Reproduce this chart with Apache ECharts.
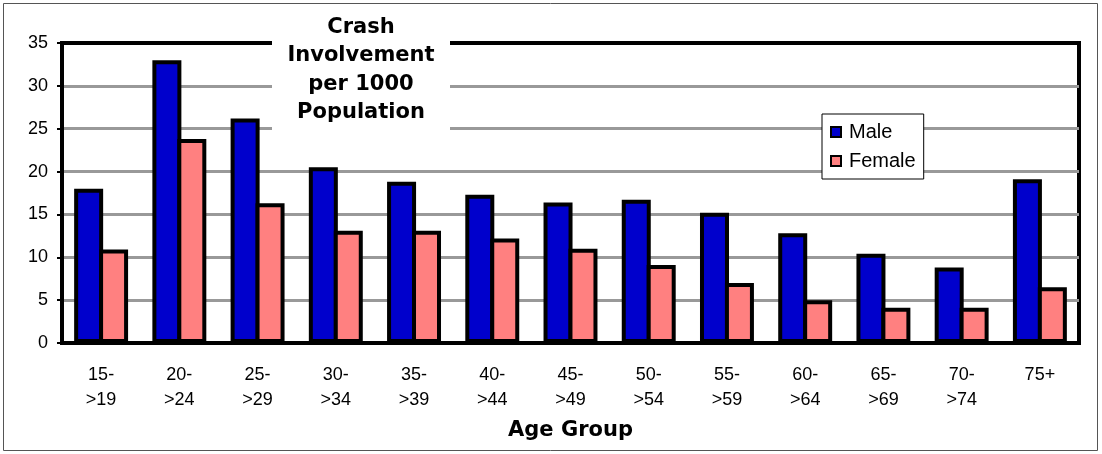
<!DOCTYPE html>
<html>
<head>
<meta charset="utf-8">
<script src="https://cdn.jsdelivr.net/npm/echarts@6/dist/echarts.min.js"></script>
<style>
  html, body { margin: 0; padding: 0; background: #fff; }
  #chart { width: 1102px; height: 454px; }
</style>
</head>
<body>
<div id="chart"></div>
<script>
// age groups along the x axis
var ageGroups = ['15-\n>19', '20-\n>24', '25-\n>29', '30-\n>34', '35-\n>39', '40-\n>44', '45-\n>49',
                 '50-\n>54', '55-\n>59', '60-\n>64', '65-\n>69', '70-\n>74', '75+'];
// crash involvement per 1000 population
var maleValues   = [18.0, 33.0, 26.2, 20.5, 18.8, 17.3, 16.4, 16.7, 15.2, 12.8, 10.4, 8.8, 19.1];
var femaleValues = [10.9, 23.8, 16.3, 13.1, 13.1, 12.2, 11.0, 9.1, 7.0, 5.0, 4.1, 4.1, 6.5];
var yTicks = [0, 5, 10, 15, 20, 25, 30, 35];

var myChart = echarts.init(document.getElementById('chart'));

myChart.setOption({
  animation: false,
  backgroundColor: '#fff',
  textStyle: { fontFamily: 'Liberation Sans, Arial, sans-serif', color: '#000' },
  grid: {
    left: 62, right: 23, top: 43, bottom: 111,
    show: true,
    borderColor: '#000',
    borderWidth: 4
  },
  legend: {
    orient: 'vertical',
    left: 822, top: 114,
    backgroundColor: '#fff',
    borderColor: '#000',
    borderWidth: 1,
    padding: [8, 8, 8, 8],
    itemWidth: 10, itemHeight: 10,
    itemGap: 9,
    icon: 'rect',
    itemStyle: { borderWidth: 2, borderColor: '#000' },
    textStyle: { fontSize: 20, color: '#000', padding: [0, 0, 0, 3] },
    data: ['Male', 'Female']
  },
  xAxis: {
    type: 'category',
    data: ageGroups,
    axisTick: { show: false },
    axisLine: { lineStyle: { color: '#000', width: 4 } },
    axisLabel: { fontSize: 18, color: '#000', lineHeight: 25, margin: 20 },
    name: 'Age Group',
    nameLocation: 'middle',
    nameGap: 77,
    nameTextStyle: { fontSize: 21, fontWeight: 'bold', fontFamily: 'DejaVu Sans', color: '#000' }
  },
  yAxis: {
    type: 'value',
    min: yTicks[0],
    max: yTicks[yTicks.length - 1],
    interval: 5,
    axisLine: { show: true, lineStyle: { color: '#000', width: 4 } },
    axisTick: { show: true, length: 5, lineStyle: { color: '#000', width: 2 } },
    axisLabel: { fontSize: 18, color: '#000', margin: 14 },
    splitLine: { showMinLine: false, showMaxLine: false, lineStyle: { color: '#999', width: 3 } }
  },
  series: [
    {
      name: 'Male',
      type: 'bar',
      data: maleValues,
      barWidth: 29,
      barGap: '-14%',
      itemStyle: { color: '#0000CC', borderColor: '#000', borderWidth: 4 }
    },
    {
      name: 'Female',
      type: 'bar',
      data: femaleValues,
      barWidth: 29,
      barGap: '-14%',
      itemStyle: { color: '#FF8080', borderColor: '#000', borderWidth: 4 }
    }
  ],
  graphic: [
    {
      type: 'rect',
      z: 100,
      silent: true,
      shape: { x: 3.5, y: 3.5, width: 1094, height: 447 },
      style: { fill: 'none', stroke: '#555', lineWidth: 1 }
    },
    {
      // white box behind the title, it hides the grid lines
      type: 'rect',
      z: 100,
      silent: true,
      shape: { x: 272, y: 6, width: 178, height: 128 },
      style: { fill: '#fff' }
    },
    {
      type: 'text',
      z: 101,
      silent: true,
      x: 361, y: 13,
      style: {
        text: 'Crash\nInvolvement\nper 1000\nPopulation',
        textAlign: 'center',
        textVerticalAlign: 'top',
        font: 'bold 21px "DejaVu Sans"',
        lineHeight: 28.5,
        fill: '#000'
      }
    }
  ]
});
</script>
</body>
</html>
